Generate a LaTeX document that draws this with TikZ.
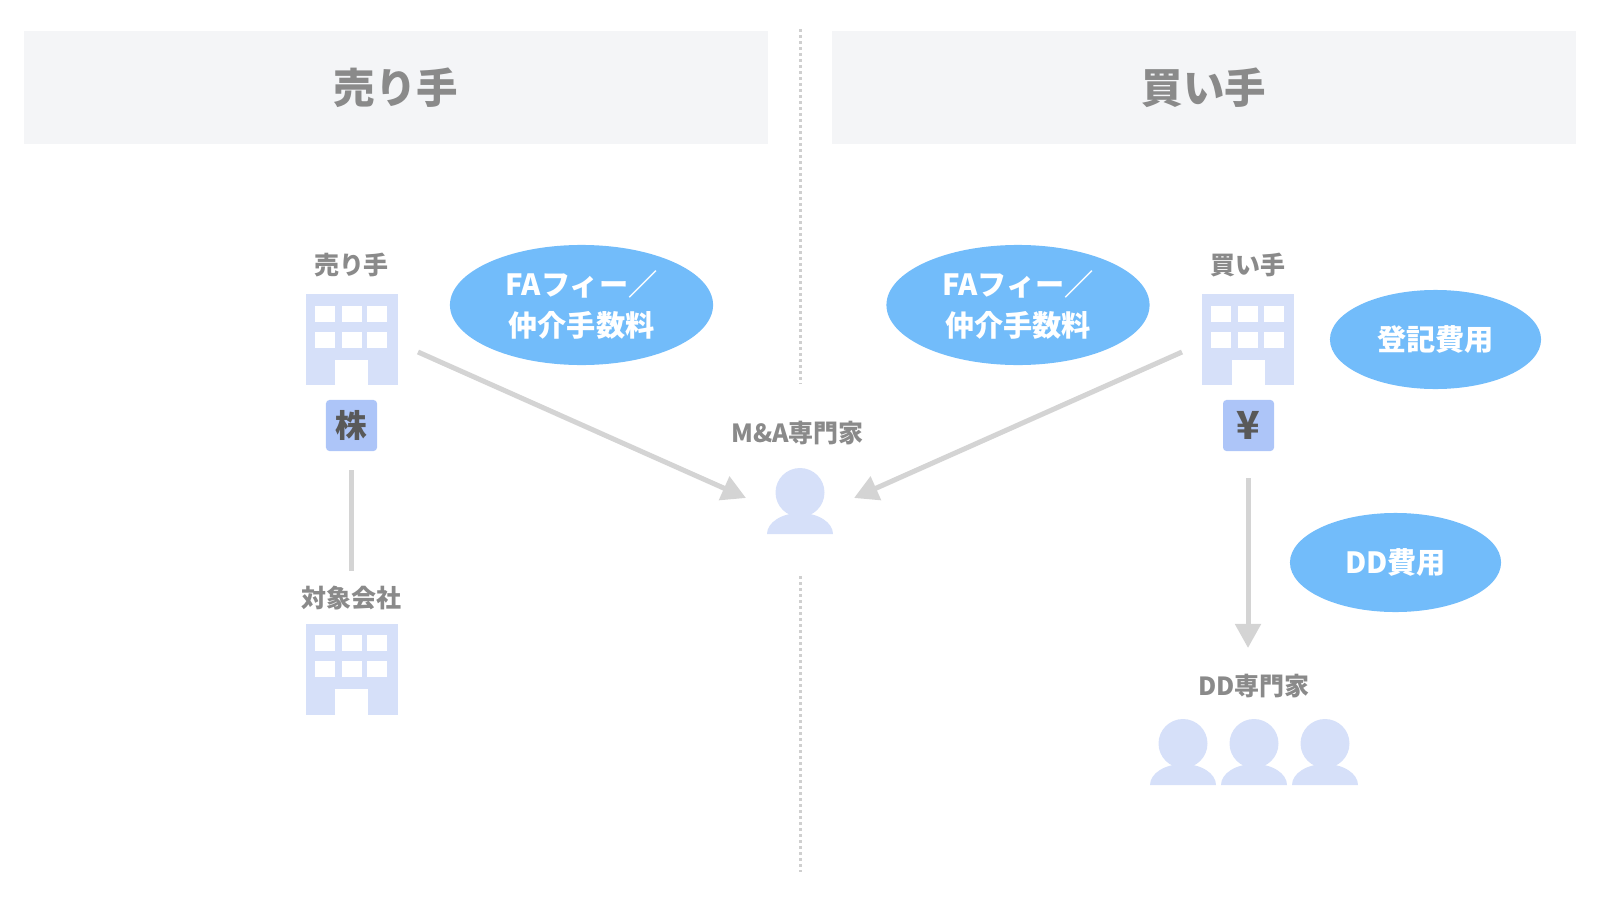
\documentclass[tikz,border=0pt]{standalone}
\usepackage{fontspec}
\setmainfont{Noto Sans CJK JP}
\usetikzlibrary{arrows.meta,shapes.geometric}

\definecolor{headbg}{HTML}{F4F5F7}
\definecolor{labelgray}{HTML}{8A8A8A}
\definecolor{iconblue}{HTML}{D6E0F9}
\definecolor{badgeblue}{HTML}{ADC5F8}
\definecolor{feeblue}{HTML}{72BCFA}
\definecolor{arrowgray}{HTML}{D4D4D4}
\definecolor{dotgray}{HTML}{CFCFCF}

\tikzset{
  headbox/.style={fill=headbg,minimum width=7.44cm,minimum height=1.13cm,inner sep=0pt,
    text=labelgray,font=\fontsize{11.8}{14}\selectfont\bfseries},
  label/.style={text=labelgray,inner sep=0pt,font=\fontsize{7.1}{9}\selectfont\bfseries},
  badge/.style={fill=badgeblue,rounded corners=0.35mm,minimum size=0.51cm,inner sep=0pt,
    text=black!65,font=\fontsize{9}{11}\selectfont\bfseries},
  fee/.style={ellipse,fill=feeblue,inner sep=0pt,align=center,text=white,
    font=\fontsize{8.3}{11.7}\selectfont\bfseries},
  link/.style={draw=arrowgray,line width=0.5mm},
  flow/.style={link,-{Triangle[length=2.4mm,width=2.5mm]}},
  midline/.style={draw=dotgray,line width=0.3mm,dash pattern=on 0.3mm off 0.3mm},
  pics/office/.style={code={
    \fill[iconblue] (-46,-45.5) rectangle (46,45.5);
    \foreach \wx in {-37,-10,15.5} \foreach \wy in {-34,-8}
      \fill[white] (\wx,\wy) rectangle ++(20,16);
    \fill[white] (-16.5,20) rectangle (16.5,45.5);
  }},
  pics/expert/.style={code={
    \fill[iconblue] (0,0) circle [radius=24.5];
    \fill[iconblue] (-33,41.5) arc [start angle=180,end angle=360,x radius=33,y radius=21] -- cycle;
  }}
}

\begin{document}
\begin{tikzpicture}[x=0.01cm,y=-0.01cm]
\useasboundingbox (0,0) rectangle (1600,900);

% Header bands
\node[headbox] (sellhead) at (396,87.5) {売り手};
\node[headbox] (buyhead) at (1204,87.5) {買い手};

% Centre divider
\coordinate (divtop) at (800,29);
\coordinate (divmid) at (800,384);
\coordinate (divlow) at (800,576);
\coordinate (divend) at (800,872);
\draw[midline] (divtop) -- (divmid);
\draw[midline] (divlow) -- (divend);

% Seller side
\node[label] (seller) at (351.5,265) {売り手};
\pic at (351.5,339.5) {office};
\node[badge] (stock) at (351.5,425.5) {株};
\node[label] (target) at (351.5,598) {対象会社};
\pic at (351.5,669) {office};

% Buyer side
\node[label] (buyer) at (1248,265) {買い手};
\pic at (1248,339.5) {office};
\node[badge,font=\fontsize{11}{11}\selectfont\bfseries] (yen) at (1248.5,425.5) {¥};

% Advisers
\node[label] (advisor) at (797.5,433) {M\&A専門家};
\pic at (800,492.5) {expert};
\node[label] (ddteam) at (1254,686) {DD専門家};
\foreach \px in {1183,1254,1325}
  \pic at (\px,743.5) {expert};

% Fees
\node[fee,minimum width=2.63cm,minimum height=1.2cm] (sellfee) at (581.5,305) {FAフィー／\\仲介手数料};
\node[fee,minimum width=2.63cm,minimum height=1.2cm] (buyfee) at (1018,305) {FAフィー／\\仲介手数料};
\node[fee,minimum width=2.11cm,minimum height=0.99cm] (regfee) at (1435.5,339.5) {登記費用};
\node[fee,minimum width=2.11cm,minimum height=0.99cm] (ddfee) at (1395.5,562.5) {DD費用};

% Connectors
\coordinate (sellout) at (418,352);
\coordinate (sellin) at (746,498);
\coordinate (buyout) at (1182,352);
\coordinate (buyin) at (854,498);
\coordinate (stockout) at (351.5,470);
\coordinate (targetin) at (351.5,571);
\coordinate (yenout) at (1248,478);
\coordinate (ddin) at (1248,648);
\draw[flow] (sellout) -- (sellin);
\draw[flow] (buyout) -- (buyin);
\draw[link] (stockout) -- (targetin);
\draw[flow] (yenout) -- (ddin);

\end{tikzpicture}
\end{document}
